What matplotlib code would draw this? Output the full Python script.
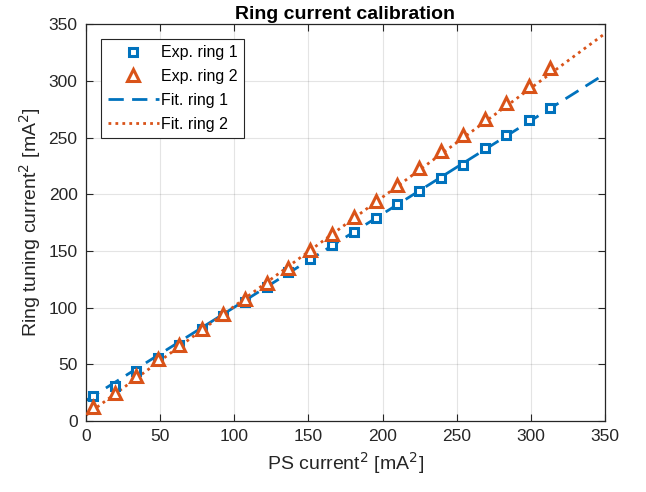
import numpy as np
import matplotlib
matplotlib.use("Agg")
import matplotlib.pyplot as plt

plt.rcParams['font.family'] = ['Liberation Sans', 'DejaVu Sans']

# squared PS current [mA^2]
ps_sq = [4.5, 19.5, 34, 48.5, 63, 78, 92.5, 107, 122, 136.5, 151, 166,
         180.5, 195.5, 210, 224.5, 239.5, 254, 269, 283.5, 298.5, 313]
# squared ring tuning current [mA^2]
ring1 = [22, 31, 44, 56, 67, 81, 93, 105, 118, 131, 143, 155,
         167, 179, 191, 203, 214, 226, 241, 252, 265, 276]
ring2 = [12, 25, 40, 55, 67, 81, 94, 108, 122, 135, 151, 165,
         180, 194, 208, 223, 238, 252, 266, 280, 295, 311]

# linear fits: slope, intercept
fit1 = [0.823, 18.0]
fit2 = [0.962, 5.0]

blue = '#0072BD'
orange = '#D95319'

fig = plt.figure(figsize=(6.46, 4.92), dpi=100)
ax = fig.add_axes([0.133, 0.1443, 0.8035, 0.8067])

xf = np.array([0, 350])
ax.plot(ps_sq, ring1, 's', ls='none', ms=6, mew=2.2, mec=blue, mfc='white',
        label='Exp. ring 1', zorder=3)
ax.plot(ps_sq, ring2, '^', ls='none', ms=8.5, mew=2.2, mec=orange, mfc='white',
        label='Exp. ring 2', zorder=3)
ax.plot(xf, fit1[0] * xf + fit1[1], color=blue, lw=2, ls=(0, (5.5, 3)),
        label='Fit. ring 1', zorder=2)
ax.plot(xf, fit2[0] * xf + fit2[1], color=orange, lw=2, ls=(0, (1, 1.5)),
        label='Fit. ring 2', zorder=2)

ax.set_xlim(0, 350)
ax.set_ylim(0, 350)
ax.set_xticks(np.arange(0, 351, 50))
ax.set_yticks(np.arange(0, 351, 50))
ax.grid(True, color='#262626', alpha=0.12, lw=0.8)
ax.set_axisbelow(True)
ax.tick_params(direction='in', top=True, right=True, length=5, width=0.8,
               labelsize=12.5, colors='#262626', pad=6)
for s in ax.spines.values():
    s.set_color('#262626')
    s.set_linewidth(0.9)

ax.set_xlabel('PS current$^2$ [mA$^2$]', fontsize=14, color='#262626')
ax.set_ylabel('Ring tuning current$^2$ [mA$^2$]', fontsize=14, color='#262626')
ax.set_title('Ring current calibration', fontsize=14, fontweight='bold',
             pad=4)

leg = ax.legend(loc='upper left', bbox_to_anchor=(0.03, 0.963), fontsize=11.5,
                handlelength=3.2, handletextpad=0.1, labelspacing=0.55,
                borderpad=0.4, borderaxespad=0, fancybox=False, framealpha=1,
                edgecolor='#262626')
leg.get_frame().set_linewidth(0.8)

fig.savefig('out.png', dpi=100)
